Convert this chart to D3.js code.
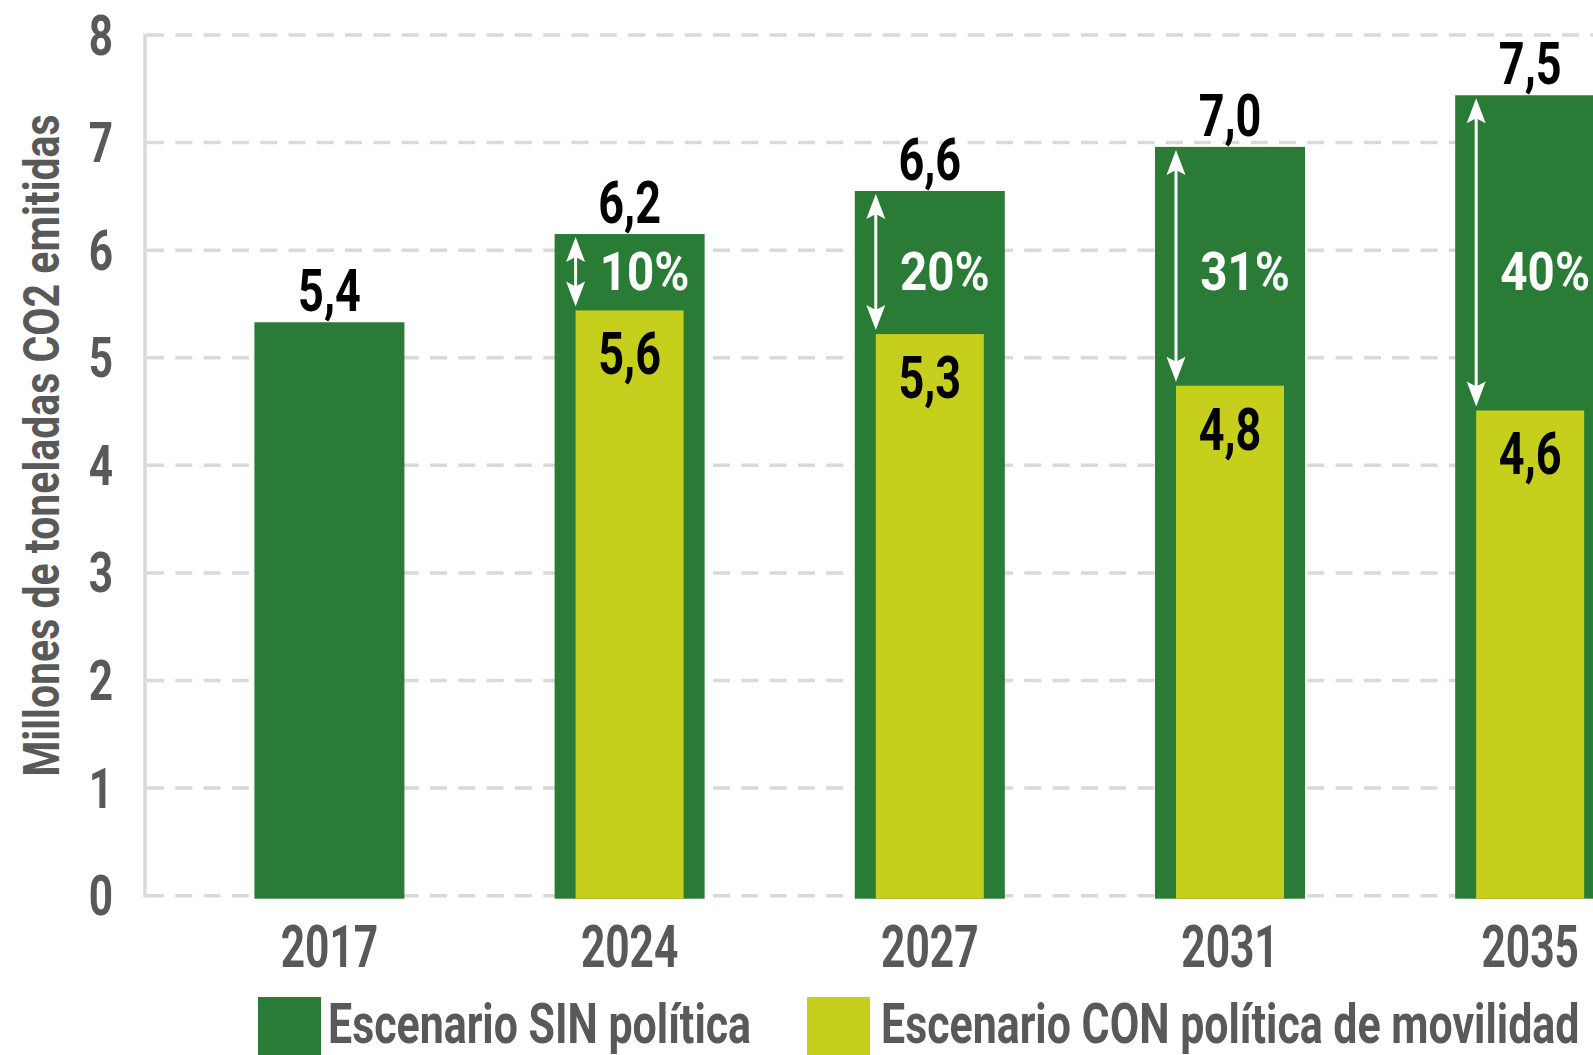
<!DOCTYPE html>
<html>
<head>
<meta charset="utf-8">
<script src="https://cdn.jsdelivr.net/npm/d3@7/dist/d3.min.js"></script>
<style>
  html, body { margin: 0; padding: 0; background: #ffffff; }
  svg { display: block; }
  text { font-family: Roboto, "Noto Sans", sans-serif; font-weight: 700; }
</style>
</head>
<body>
<svg id="chart" width="1593" height="1055"></svg>
<script>
// ---- data ----
const years = ["2017", "2024", "2027", "2031", "2035"];
const sinValues = [5.33, 6.15, 6.55, 6.96, 7.44];          // Escenario SIN política (bar heights)
const conValues = [null, 5.44, 5.22, 4.74, 4.51];          // Escenario CON política de movilidad
const sinLabels = ["5,4", "6,2", "6,6", "7,0", "7,5"];
const conLabels = [null, "5,6", "5,3", "4,8", "4,6"];
const reductionLabels = [null, "10%", "20%", "31%", "40%"];
const yTickValues = [0, 1, 2, 3, 4, 5, 6, 7, 8];
const yTitle = "Millones de toneladas CO2 emitidas";
const legendLabels = ["Escenario SIN política", "Escenario CON política de movilidad"];

// ---- style ----
const GREEN = "#2a7b36";
const LIME = "#c5cf1c";
const GRAY = "#595959";
const GRID = "#d9d9d9";

const W = 1593, H = 1055;
const svg = d3.select("#chart");

const y = d3.scaleLinear().domain([0, 8]).range([895.7, 35]);
const x = d3.scaleBand().domain(years).range([179.3, 1680.3]).paddingInner(0.5003).paddingOuter(0.2502);
const bw = x.bandwidth();
const innerW = bw * 0.72;

function ctext(g, px, py, txt, size, sx, fill, anchor) {
  return g.append("text")
    .attr("transform", `translate(${px},${py}) scale(${sx},1)`)
    .attr("text-anchor", anchor || "middle")
    .attr("font-size", size)
    .attr("fill", fill)
    .text(txt);
}

// gridlines
const gGrid = svg.append("g");
gGrid.selectAll("line").data(yTickValues).join("line")
  .attr("x1", 147).attr("x2", W)
  .attr("y1", d => y(d)).attr("y2", d => y(d))
  .attr("stroke", GRID).attr("stroke-width", 3.5)
  .attr("stroke-dasharray", "17,11.3");
// vertical axis line
gGrid.append("line")
  .attr("x1", 145).attr("x2", 145)
  .attr("y1", y(8) - 1.5).attr("y2", y(0) + 1.5)
  .attr("stroke", GRID).attr("stroke-width", 3.5);

// y tick labels
const gY = svg.append("g");
yTickValues.forEach(v => ctext(gY, 113, y(v) + 19.5, String(v), 55, 0.77, GRAY, "end"));

// y title
svg.append("text")
  .attr("transform", `translate(59,${(117 + 774) / 2}) rotate(-90) scale(0.82,1)`)
  .attr("text-anchor", "middle")
  .attr("font-size", 50)
  .attr("fill", GRAY)
  .text(yTitle);

// bars
const gBars = svg.append("g");
years.forEach((yr, i) => {
  const x0 = x(yr), cx = x0 + bw / 2;
  gBars.append("rect")
    .attr("x", x0).attr("y", y(sinValues[i]))
    .attr("width", bw).attr("height", y(0) - y(sinValues[i]) + 3)
    .attr("fill", GREEN);
  if (conValues[i] != null) {
    gBars.append("rect")
      .attr("x", cx - innerW / 2).attr("y", y(conValues[i]))
      .attr("width", innerW).attr("height", y(0) - y(conValues[i]) + 3)
      .attr("fill", LIME);
  }
});

// labels
const gLab = svg.append("g");
years.forEach((yr, i) => {
  const cx = x(yr) + bw / 2;
  ctext(gLab, cx, y(sinValues[i]) - 11, sinLabels[i], 60, 0.75, "#000000");
  if (conValues[i] != null) {
    ctext(gLab, cx, y(conValues[i]) + 64, conLabels[i], 60, 0.75, "#000000");
    ctext(gLab, cx + 15, y(5.63), reductionLabels[i], 54, 0.88, "#ffffff");
    // double arrow
    const ax = cx - innerW / 2;
    const y1 = y(sinValues[i]) + 3, y2 = y(conValues[i]) - 4;
    gLab.append("line").attr("x1", ax).attr("x2", ax)
      .attr("y1", y1 + 10).attr("y2", y2 - 10)
      .attr("stroke", "#ffffff").attr("stroke-width", 3);
    gLab.append("path")
      .attr("d", `M${ax},${y1} L${ax + 9.5},${y1 + 25} L${ax},${y1 + 20} L${ax - 9.5},${y1 + 25} Z`)
      .attr("fill", "#ffffff");
    gLab.append("path")
      .attr("d", `M${ax},${y2} L${ax + 9.5},${y2 - 25} L${ax},${y2 - 20} L${ax - 9.5},${y2 - 25} Z`)
      .attr("fill", "#ffffff");
  }
});

// x labels
const gX = svg.append("g");
years.forEach(yr => ctext(gX, x(yr) + bw / 2, 967, yr, 59, 0.72, GRAY));

// legend
const gLeg = svg.append("g");
const legendItems = [
  { label: legendLabels[0], color: GREEN, rx: 258, tx: 328 },
  { label: legendLabels[1], color: LIME, rx: 807, tx: 881 }
];
legendItems.forEach(it => {
  gLeg.append("rect").attr("x", it.rx).attr("y", 997).attr("width", 63).attr("height", 60).attr("fill", it.color);
  ctext(gLeg, it.tx, 1043, it.label, 55, 0.78, GRAY, "start");
});
</script>
</body>
</html>
